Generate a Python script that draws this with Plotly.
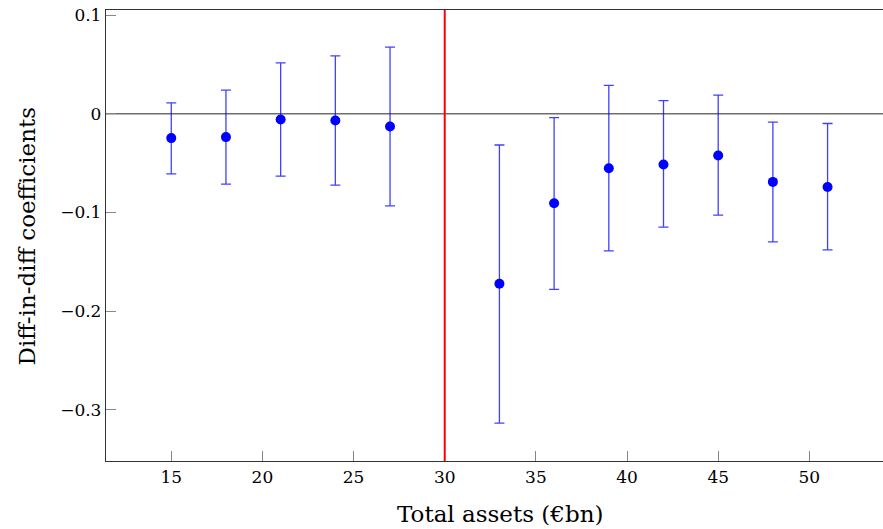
import plotly.graph_objects as go

assets = [15, 18, 21, 24, 27, 33, 36, 39, 42, 45, 48, 51]
coef = [-0.0246, -0.0236, -0.0057, -0.0068, -0.0128, -0.1722, -0.0907, -0.0551, -0.0513, -0.0422, -0.0690, -0.0741]
upper = [0.0111, 0.0240, 0.0517, 0.0588, 0.0676, -0.0316, -0.0039, 0.0289, 0.0134, 0.0190, -0.0085, -0.0098]
lower = [-0.0608, -0.0712, -0.0631, -0.0723, -0.0932, -0.3135, -0.1778, -0.1389, -0.1148, -0.1027, -0.1297, -0.1378]
threshold = 30
x_ticks = [15, 20, 25, 30, 35, 40, 45, 50]
y_ticks = [0.1, 0, -0.1, -0.2, -0.3]
y_ticktext = ["0.1", "0", "\u22120.1", "\u22120.2", "\u22120.3"]

err_plus = [u - c for u, c in zip(upper, coef)]
err_minus = [c - l for c, l in zip(coef, lower)]

FONT = "DejaVu Serif"

fig = go.Figure()
fig.add_hline(y=0, line=dict(color="#6e6e6e", width=1.5), layer="below")
fig.add_vline(x=threshold, line=dict(color="#ff0000", width=2), layer="above")
fig.add_trace(go.Scatter(
    x=assets, y=coef, mode="markers",
    marker=dict(color="#0000ff", size=10),
    error_y=dict(type="data", symmetric=False, array=err_plus, arrayminus=err_minus,
                 color="rgba(0,0,255,0.75)", thickness=1.3, width=5),
    showlegend=False,
))

fig.update_layout(
    width=883, height=529,
    margin=dict(l=106, r=0, t=10, b=68, autoexpand=False),
    plot_bgcolor="white", paper_bgcolor="white",
    font=dict(family=FONT, size=17, color="black"),
    xaxis=dict(range=[11.42, 54.04], tickvals=x_ticks, ticks="inside", ticklen=10,
               tickcolor="#888888", tickwidth=1, showgrid=False, zeroline=False,
               showline=True, linecolor="#333333", linewidth=1.3, mirror=True,
               tickfont=dict(family=FONT, size=17), ticklabeloverflow="allow",
               automargin=False),
    yaxis=dict(range=[-0.3518, 0.1052], tickvals=y_ticks, ticktext=y_ticktext,
               ticks="inside", ticklen=10, tickcolor="#888888", tickwidth=1,
               showgrid=False, zeroline=False, showline=True, linecolor="#333333",
               linewidth=1.3, tickfont=dict(family=FONT, size=17),
               ticklabeloverflow="allow", automargin=False),
    annotations=[
        dict(text="Total assets (\u20acbn)", xref="paper", yref="paper", x=0.507, y=-0.1175,
             xanchor="center", yanchor="middle", showarrow=False,
             font=dict(family=FONT, size=23)),
        dict(text="Diff-in-diff coefficients", xref="paper", yref="paper", x=-0.1017, y=0.5,
             xanchor="center", yanchor="middle", showarrow=False, textangle=-90,
             font=dict(family=FONT, size=23)),
    ],
)

fig.write_html(
    "out.html",
    config={"displayModeBar": False},
    post_script="document.body.style.margin='0';document.body.style.overflow='hidden';",
)
